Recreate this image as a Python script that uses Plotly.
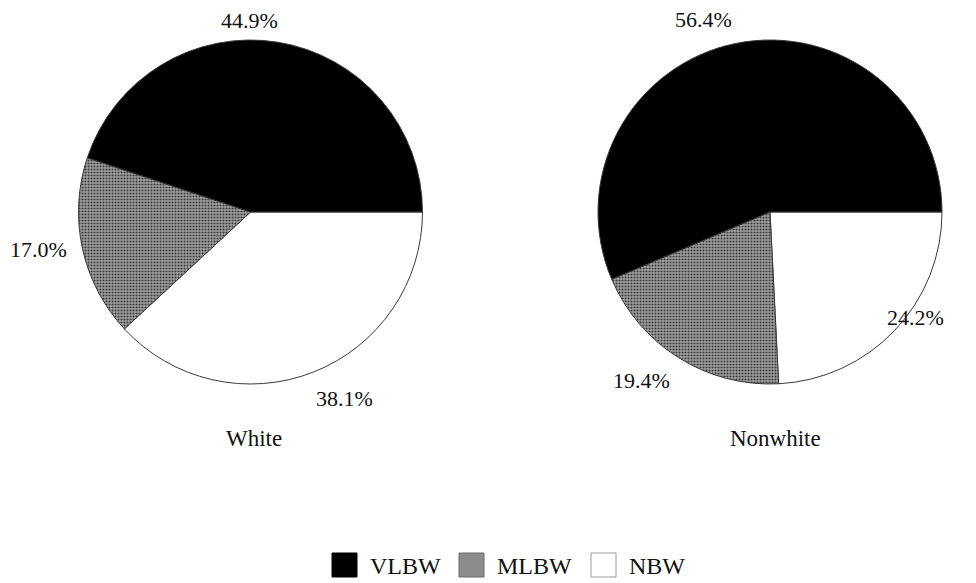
import plotly.graph_objects as go

# Birth-weight category shares (%) by race
categories = ["VLBW", "MLBW", "NBW"]
white_pct = [44.9, 17.0, 38.1]
nonwhite_pct = [56.4, 19.4, 24.2]
group_names = ["White", "Nonwhite"]

W, H = 976, 583
FONT = "Liberation Serif, Times New Roman, serif"

colors = ["#000000", "#8c8c8c", "#ffffff"]
pattern_shapes = ["", ".", ""]


def px_x(x):
    return x / W


def px_y(y):
    return 1 - y / H


# pie placement (pixel boxes: left, right, top, bottom)
pie_boxes = [(78, 423, 40, 384), (597, 943, 40, 384)]

fig = go.Figure()
for vals, name, (l, r, t, b) in zip([white_pct, nonwhite_pct], group_names, pie_boxes):
    # slices are laid out clockwise from 3 o'clock in reverse category order,
    # so VLBW -> MLBW -> NBW runs counterclockwise
    fig.add_trace(go.Pie(
        labels=categories[::-1],
        values=vals[::-1],
        name=name,
        sort=False,
        direction="clockwise",
        rotation=90,
        textinfo="none",
        showlegend=False,
        marker=dict(colors=colors[::-1], line=dict(color="#3a3a3a", width=1),
                    pattern=dict(shape=pattern_shapes[::-1], fgcolor="#3a3a3a",
                                 bgcolor="#a2a2a2", size=3, solidity=0.4,
                                 fillmode="replace")),
        domain=dict(x=[px_x(l), px_x(r)], y=[px_y(b), px_y(t)]),
    ))

annotations = []
# percentage labels around each pie (pixel anchor points)
label_pos = [
    [(250, 20), (38, 249), (344, 398)],
    [(703, 19), (641, 380), (915, 317)],
]
for vals, pos in zip([white_pct, nonwhite_pct], label_pos):
    for v, (x, y) in zip(vals, pos):
        annotations.append(dict(x=px_x(x), y=px_y(y), xref="paper", yref="paper",
                                text=f"{v:.1f}%", showarrow=False,
                                xanchor="center", yanchor="middle",
                                font=dict(family=FONT, size=22, color="#111")))

# group captions under the pies
for name, x in zip(group_names, [254, 775]):
    annotations.append(dict(x=px_x(x), y=px_y(438), xref="paper", yref="paper",
                            text=name, showarrow=False, xanchor="center",
                            yanchor="middle",
                            font=dict(family=FONT, size=23, color="#111")))

# legend built from squares and text
shapes = []
legend_swatch_x = [332, 459, 591]
legend_fill = ["#000000", "#8c8c8c", "#ffffff"]
legend_line = ["#000000", "#6a6a6a", "#9a9a9a"]
for cat, x0, fc, lc in zip(categories, legend_swatch_x, legend_fill, legend_line):
    shapes.append(dict(type="rect", xref="paper", yref="paper",
                       x0=px_x(x0), x1=px_x(x0 + 25), y0=px_y(577), y1=px_y(553),
                       fillcolor=fc, line=dict(color=lc, width=1)))
    annotations.append(dict(x=px_x(x0 + 36), y=px_y(566), xref="paper", yref="paper",
                            text=cat, showarrow=False, xanchor="left",
                            yanchor="middle",
                            font=dict(family=FONT, size=24, color="#111")))

fig.update_layout(
    width=W, height=H,
    margin=dict(l=0, r=0, t=0, b=0),
    paper_bgcolor="white",
    plot_bgcolor="white",
    annotations=annotations,
    shapes=shapes,
)

fig.write_html("out.html")
